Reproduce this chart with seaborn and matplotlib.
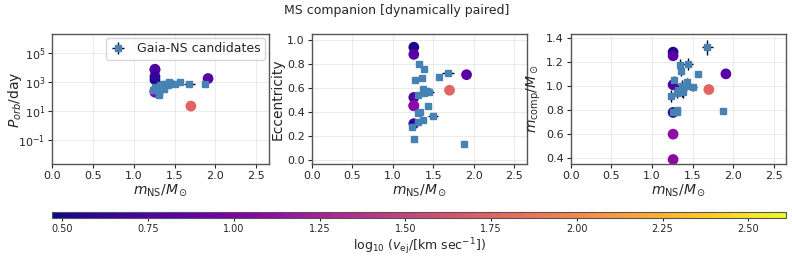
import numpy as np
import pandas as pd
import matplotlib
matplotlib.use("Agg")
import matplotlib.pyplot as plt
import seaborn as sns
from matplotlib.colors import Normalize
from matplotlib.cm import ScalarMappable

# ---- Gaia-NS candidates ----
gaia_mns = [1.24, 1.26, 1.27, 1.31, 1.31, 1.31, 1.32, 1.34, 1.36, 1.37,
            1.37, 1.38, 1.385, 1.445, 1.43, 1.50, 1.57, 1.68, 1.877, 1.42]
gaia_mns_err = [0.02, 0.02, 0.02, 0.02, 0.03, 0.02, 0.02, 0.03, 0.03, 0.03,
                0.03, 0.03, 0.02, 0.06, 0.03, 0.06, 0.02, 0.07, 0.02, 0.07]
gaia_porb = [300, 500, 400, 250, 180, 120, 600, 500, 700, 350,
             450, 800, 650, 900, 1000, 800, 1100, 700, 750, 600]
gaia_porb_err = [5, 10, 8, 4, 3, 2, 12, 10, 15, 6,
                 8, 20, 12, 25, 30, 20, 40, 25, 30, 15]
gaia_ecc = [0.27, 0.17, 0.665, 0.536, 0.388, 0.313, 0.80, 0.40, 0.68, 0.587,
            0.327, 0.56, 0.754, 0.567, 0.452, 0.363, 0.69, 0.723, 0.126, 0.57]
gaia_mcomp = [0.917, 0.78, 1.05, 0.80, 0.94, 0.78, 0.97, 1.17, 1.12, 0.96,
              1.00, 0.95, 0.98, 1.18, 1.035, 0.99, 1.10, 1.32, 0.79, 1.00]
gaia_mcomp_err = [0.05, 0.02, 0.03, 0.02, 0.04, 0.02, 0.04, 0.05, 0.04, 0.05,
                  0.05, 0.05, 0.04, 0.05, 0.03, 0.03, 0.02, 0.06, 0.02, 0.04]

# ---- simulated systems (dynamically paired, MS companion) ----
sim_mns = [1.26, 1.26, 1.26, 1.26, 1.26, 1.26, 1.70, 1.91]
sim_porb = [1500, 7000, 8000, 250, 2500, 200, 22, 1800]
sim_ecc = [0.94, 0.88, 0.52, 0.45, 0.30, 0.45, 0.58, 0.71]
sim_mcomp = [1.28, 1.25, 1.01, 0.60, 0.78, 0.39, 0.97, 1.10]
sim_logv = [0.50, 0.80, 0.75, 1.10, 0.62, 1.08, 1.75, 0.80]

vmin, vmax = 0.47, 2.61

sns.set_style("ticks")
plt.rcParams['font.family'] = ['DejaVu Sans']

fig = plt.figure(figsize=(7.93, 2.6), dpi=100)
axes = [fig.add_axes([0.0656, 0.368, 0.273, 0.501]),
        fig.add_axes([0.393, 0.368, 0.271, 0.501]),
        fig.add_axes([0.7197, 0.368, 0.2715, 0.501])]

sim = pd.DataFrame({"mns": sim_mns, "porb": sim_porb, "ecc": sim_ecc,
                    "mcomp": sim_mcomp, "logv": sim_logv})
gaia = pd.DataFrame({"mns": gaia_mns, "dm": gaia_mns_err, "porb": gaia_porb,
                     "dp": gaia_porb_err, "ecc": gaia_ecc, "mcomp": gaia_mcomp,
                     "dmc": gaia_mcomp_err})

cols = ["porb", "ecc", "mcomp"]
yerrs = ["dp", None, "dmc"]
ylabels = [r"$P_{orb}$/day", "Eccentricity", r"$m_{\rm comp}/M_\odot$"]
norm = Normalize(vmin=vmin, vmax=vmax)
for ax, col, ye, yl in zip(axes, cols, yerrs, ylabels):
    sns.scatterplot(data=sim, x="mns", y=col, hue="logv", palette="plasma",
                    hue_norm=norm, s=60, edgecolor="none", legend=False, ax=ax, zorder=2)
    yerr = gaia[ye] if ye else None
    ax.errorbar(gaia["mns"], gaia[col], xerr=gaia["dm"], yerr=yerr, fmt="s",
                color="steelblue", ecolor="black", elinewidth=1, markersize=5,
                label="Gaia-NS candidates", zorder=3)
    ax.set_xlim(0, 2.65)
    ax.set_xticks([0, 0.5, 1.0, 1.5, 2.0, 2.5])
    ax.set_xlabel(r"$m_{\rm NS}/M_\odot$", fontsize=10, labelpad=1)
    ax.set_ylabel(yl, fontsize=10, labelpad=2)
    ax.tick_params(labelsize=8, length=3, pad=2)
    ax.grid(True, color="#dddddd", linewidth=0.6, alpha=0.7)
    for sp in ax.spines.values():
        sp.set_color("#555555")
        sp.set_linewidth(1.0)

axes[0].set_yscale("log")
axes[0].set_ylim(2e-3, 2.2e6)
axes[0].set_yticks([1e-1, 1e1, 1e3, 1e5])
axes[0].minorticks_off()
axes[0].yaxis.set_label_coords(-0.13, 0.5)
axes[0].legend(loc="upper right", fontsize=9, frameon=True, handletextpad=0.9,
               handlelength=1.2, borderpad=0.35, borderaxespad=0.3)
axes[1].set_ylim(-0.04, 1.05)
axes[1].set_yticks([0.0, 0.2, 0.4, 0.6, 0.8, 1.0])
axes[2].set_ylim(0.35, 1.43)
axes[2].set_yticks([0.4, 0.6, 0.8, 1.0, 1.2, 1.4])

fig.suptitle("MS companion [dynamically paired]", fontsize=9, y=0.985)

cax = fig.add_axes([0.0656, 0.1615, 0.9256, 0.025])
sm = ScalarMappable(norm=norm, cmap="plasma")
cb = fig.colorbar(sm, cax=cax, orientation="horizontal")
cb.set_ticks([0.5, 0.75, 1.0, 1.25, 1.5, 1.75, 2.0, 2.25, 2.5])
cb.ax.tick_params(labelsize=7, length=2, pad=2)
cb.set_label(r"$\log_{10}\,(v_{\rm ej}/[{\rm km\ sec}^{-1}])$", fontsize=9, labelpad=2)
cb.outline.set_edgecolor("#555555")

fig.savefig("out.png", dpi=100)
